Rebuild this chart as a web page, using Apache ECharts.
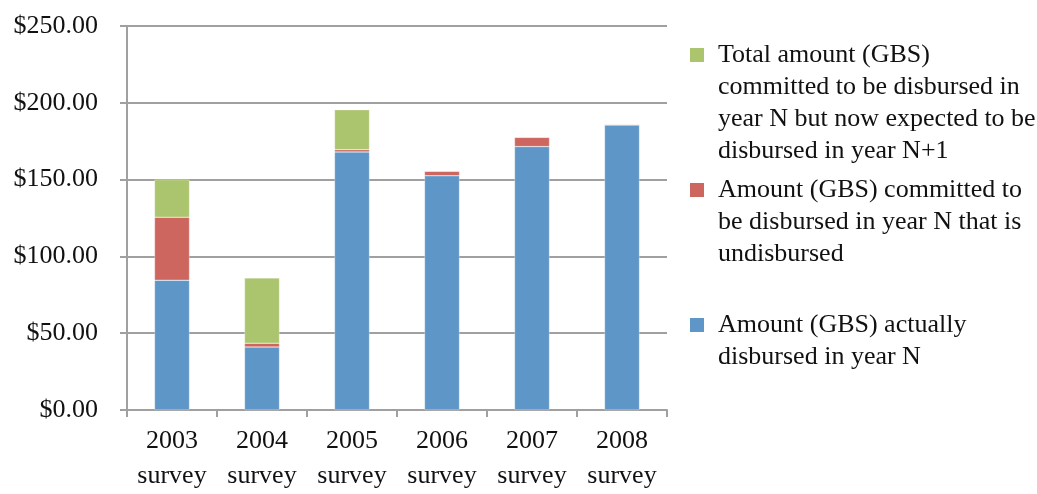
<!DOCTYPE html>
<html>
<head>
<meta charset="utf-8">
<script src="https://cdn.jsdelivr.net/npm/echarts@6/dist/echarts.min.js"></script>
<style>
html,body{margin:0;padding:0;background:#fff;overflow:hidden;}
#chart{width:1037px;height:494px;}
</style>
</head>
<body>
<div id="chart"></div>
<script>
const categories = ['2003\nsurvey','2004\nsurvey','2005\nsurvey','2006\nsurvey','2007\nsurvey','2008\nsurvey'];
const disbursed = [84.5, 41, 168, 152.5, 171.5, 185.5];
const undisbursed = [41, 2.5, 1.5, 3, 6, 0.6];
const delayed = [24.5, 42.5, 26, 0, 0, 0];
const seriesNames = [
  'Amount (GBS) actually disbursed in year N',
  'Amount (GBS) committed to be disbursed in year N that is undisbursed',
  'Total amount (GBS) committed to be disbursed in year N but now expected to be disbursed in year N+1'
];
const legendLines = [
  ['Amount (GBS) actually','disbursed in year N'],
  ['Amount (GBS) committed to','be disbursed in year N that is','undisbursed'],
  ['Total amount (GBS)','committed to be disbursed in','year N but now expected to be','disbursed in year N+1']
];
const yTicks = [0, 50, 100, 150, 200, 250];
const colors = ['#5F96C8', '#CD665E', '#ABC46E'];

const FONT = 'Liberation Serif';
const TXT = '#111';

function makeLegend(idx, top) {
  return {
    show: true,
    left: 685,
    top: top,
    orient: 'vertical',
    icon: 'none',
    itemWidth: 0,
    itemHeight: 0,
    itemGap: 0,
    padding: 0,
    selectedMode: false,
    data: [seriesNames[idx]],
    formatter: function () {
      return legendLines[idx].map(function (l, i) {
        return (i === 0 ? '{sq|}{gp|}' : '{sp|}') + '{t|' + l + '}';
      }).join('\n');
    },
    textStyle: {
      fontFamily: FONT, fontSize: 26, color: TXT, lineHeight: 32, padding: 0,
      rich: {
        sq: { width: 14, height: 14, backgroundColor: colors[idx] },
        gp: { width: 14 },
        sp: { width: 28 },
        t: { fontFamily: FONT, fontSize: 26, color: TXT, lineHeight: 32 }
      }
    }
  };
}

const chart = echarts.init(document.getElementById('chart'), null, { renderer: 'canvas', width: 1037, height: 494 });
chart.setOption({
  backgroundColor: '#fff',
  animation: false,
  grid: { left: 127, right: 370, top: 26, bottom: 79, containLabel: false },
  legend: [ makeLegend(2, 39), makeLegend(1, 174), makeLegend(0, 309) ],
  xAxis: {
    type: 'category',
    data: categories,
    axisLine: { show: true, lineStyle: { color: '#a0a0a0', width: 2 } },
    axisTick: { show: true, length: 7, lineStyle: { color: '#a0a0a0', width: 2 } },
    axisLabel: { fontFamily: FONT, fontSize: 26, color: TXT, lineHeight: 35, margin: 14, interval: 0 },
    splitLine: { show: false }
  },
  yAxis: {
    type: 'value',
    min: yTicks[0],
    max: yTicks[yTicks.length - 1],
    interval: yTicks[1] - yTicks[0],
    axisLine: { show: true, lineStyle: { color: '#a0a0a0', width: 2 } },
    axisTick: { show: true, length: 7, lineStyle: { color: '#a0a0a0', width: 2 } },
    axisLabel: {
      fontFamily: FONT, fontSize: 26, color: TXT, margin: 29,
      formatter: function (v) { return '$' + v.toFixed(2); }
    },
    splitLine: { show: true, lineStyle: { color: '#a0a0a0', width: 2 } }
  },
  series: [
    { name: seriesNames[0], type: 'bar', stack: 'a', data: disbursed, barWidth: 35,
      itemStyle: { color: colors[0], borderColor: 'rgba(255,255,255,0.6)', borderWidth: 0.5 } },
    { name: seriesNames[1], type: 'bar', stack: 'a', data: undisbursed, barWidth: 35,
      itemStyle: { color: colors[1], borderColor: 'rgba(255,255,255,0.6)', borderWidth: 0.5 } },
    { name: seriesNames[2], type: 'bar', stack: 'a', data: delayed, barWidth: 35,
      itemStyle: { color: colors[2], borderColor: 'rgba(255,255,255,0.6)', borderWidth: 0.5 } }
  ]
});
</script>
</body>
</html>
